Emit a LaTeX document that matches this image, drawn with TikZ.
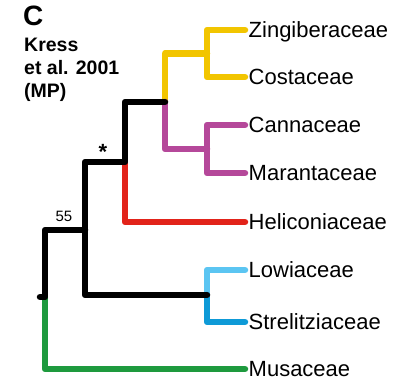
\documentclass[tikz,border=0pt]{standalone}
\usepackage{fontspec}
\setmainfont{Liberation Sans}
\usetikzlibrary{positioning}

\definecolor{zingyellow}{RGB}{242,197,0}
\definecolor{cannpink}{RGB}{181,72,154}
\definecolor{helired}{RGB}{226,35,26}
\definecolor{lowiblue}{RGB}{91,197,242}
\definecolor{strelblue}{RGB}{14,154,215}
\definecolor{musagreen}{RGB}{30,154,62}

\begin{document}
\begin{tikzpicture}[
    x=1pt, y=-1pt,
    branch/.style={
        line width=6.5pt,
        line cap=round,
        line join=round
    },
    leaf/.style={
        anchor=west,
        inner sep=3.5pt,
        text height=15pt,
        text depth=0pt,
        font=\fontsize{22}{24}\selectfont
    },
    support/.style={
        anchor=base,
        inner sep=0pt,
        font=\fontsize{15}{17}\selectfont
    }
]

\useasboundingbox (0,0) rectangle (394,382);

\node[anchor=base west, inner sep=0pt, font=\fontsize{28}{30}\selectfont\bfseries] (panel) at (23,26) {C};
\node[anchor=north west, inner sep=0pt, align=left,
      font=\fontsize{19.5}{23}\selectfont\bfseries] (source) at (24,38) {Kress\\et al. 2001\\(MP)};

% leaves
\node[leaf] (zin) at (245,30) {Zingiberaceae};
\node[leaf] (cos) at (245,77) {Costaceae};
\node[leaf] (can) at (245,125) {Cannaceae};
\node[leaf] (mar) at (245,173) {Marantaceae};
\node[leaf] (hel) at (245,222) {Heliconiaceae};
\node[leaf] (low) at (245,270) {Lowiaceae};
\node[leaf] (str) at (245,322) {Strelitziaceae};
\node[leaf] (mus) at (245,369) {Musaceae};

% inner nodes of the tree
\coordinate (zc) at (207,53.5);
\coordinate (cm) at (207,149);
\coordinate (zm) at (165,102);
\coordinate (zh) at (125,162);
\coordinate (zs) at (85,230);
\coordinate (ls) at (207,295);
\coordinate (root) at (45,297);
\coordinate (stub) at (40,297);

\draw[branch, zingyellow] (zin.west) -| (zc) |- (cos.west);
\draw[branch, zingyellow] (zc) -| (zm);
\draw[branch, cannpink] (can.west) -| (cm) |- (mar.west);
\draw[branch, cannpink] (cm) -| (zm);
\draw[branch, helired] (zh) |- (hel.west);
\draw[branch, lowiblue] (ls) |- (low.west);
\draw[branch, strelblue] (ls) |- (str.west);
\draw[branch, musagreen] (root) |- (mus.west);

\draw[branch, black] (zm) -| (zh) -| (zs) |- (ls);
\draw[branch, black] (zs) -| (root) -- (stub);

\node[support] (bs55) at (64,222) {55};
\node[support, font=\fontsize{22}{24}\selectfont\bfseries] (bsstar) at (103,160) {*};

\end{tikzpicture}
\end{document}
